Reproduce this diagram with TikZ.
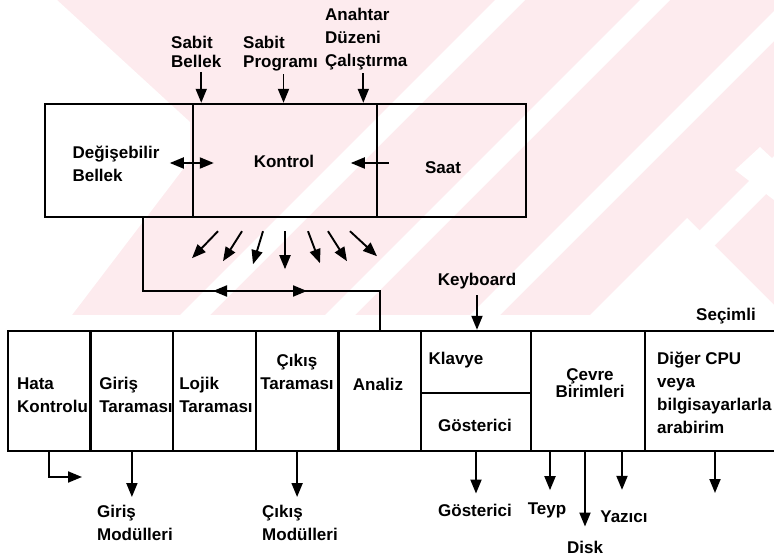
\documentclass[tikz,border=0pt]{standalone}
\usepackage{fontspec}
\setmainfont{Liberation Sans}
\usetikzlibrary{arrows.meta,calc}

\tikzset{
    kutu/.style={draw=black, line width=2.4pt, inner sep=0pt},
    yazi/.style={font=\bfseries\fontsize{17}{23}\selectfont, align=left, inner sep=0pt},
    sikyazi/.style={font=\bfseries\fontsize{17}{19}\selectfont, align=left, inner sep=0pt},
    ok/.style={line width=1.9pt, -{Triangle[length=14pt,width=11pt]}},
    cift/.style={line width=1.9pt, {Triangle[length=14pt,width=11pt]}-{Triangle[length=14pt,width=11pt]}},
    hat/.style={line width=1.9pt}
}

\begin{document}
\begin{tikzpicture}[x=1pt, y=-1pt]
    \definecolor{pembe}{HTML}{FDEBEE}
    \useasboundingbox (0,0) rectangle (774,556);

    % Watermark in the background
    \begin{scope}
        \clip (0,0) rectangle (774,315);
        \fill[pembe] (0,0) rectangle (774,315);
        \fill[white] (0,0) -- (57,0) -- (190,122) -- (190,160) -- (72,315) -- (0,315) -- cycle;
        \foreach \c in {510,655,800,945}
            \fill[white] (\c-15,0) -- (\c+15,0) -- (\c-300,315) -- (\c-330,315) -- cycle;
        \fill[white] (687,218) -- (590,315) -- (774,315) -- (774,305) -- cycle;
        \fill[white] (735,170) -- (760,147) -- (774,160) -- (774,200) -- cycle;
    \end{scope}

    % Upper unit
    \node[kutu, minimum width=148pt, minimum height=113pt] (bellek) at (119,160.5) {};
    \node[kutu, minimum width=184pt, minimum height=113pt] (kontrol) at (285,160.5) {};
    \node[kutu, minimum width=149pt, minimum height=113pt] (saat) at (451.5,160.5) {};

    \node[yazi] (tBellek) at (116,164) {Değişebilir\\Bellek};
    \node[yazi] (tKontrol) at (284,161) {Kontrol};
    \node[yazi] (tSaat) at (443,168) {Saat};

    % Inputs from above
    \node[sikyazi, anchor=north west] (sbLbl) at (171,36) {Sabit\\Bellek};
    \node[sikyazi, anchor=north west] (spLbl) at (243,36) {Sabit\\Programı};
    \node[yazi, anchor=north west] (adLbl) at (325,8) {Anahtar\\Düzeni\\Çalıştırma};

    \draw[ok, shorten <=4pt] ([xshift=5pt]sbLbl.south) -- ([xshift=5pt]sbLbl.south |- kontrol.north);
    \draw[ok, shorten <=3pt] ([xshift=3pt]spLbl.south) -- ([xshift=3pt]spLbl.south |- kontrol.north);
    \draw[ok, shorten <=3pt] ([xshift=-3pt]adLbl.south) -- ([xshift=-3pt]adLbl.south |- kontrol.north);

    % Arrows inside the upper unit
    \draw[cift] ([xshift=-22pt,yshift=-2.5pt]kontrol.west) -- ([xshift=22pt,yshift=-2.5pt]kontrol.west);
    \draw[ok] ([xshift=13pt,yshift=-2.5pt]saat.west) -- ([xshift=-25pt,yshift=-2.5pt]saat.west);

    % Fan of arrows below Kontrol
    \foreach \s/\dx/\dy in {-67/-26/27, -43/-19/30, -22/-10/33, 0/0/38, 23/12/32, 43/19/30, 65/27/25}
        \draw[ok] ($(kontrol.south)+(\s,13)$) -- ++(\dx,\dy);

    % Lower unit
    \foreach \ad [count=\i from 0] in {hata,giris,lojik,cikis,analiz}
        \node[kutu, minimum width=82.6pt, minimum height=120pt] (\ad) at (49.3+82.6*\i,391) {};
    \node[kutu, minimum width=110pt, minimum height=62pt] (klavye) at (476,362) {};
    \node[kutu, minimum width=110pt, minimum height=58pt] (gosterici) at (476,422) {};
    \node[kutu, minimum width=114pt, minimum height=120pt] (cevre) at (588,391) {};
    \node[kutu, minimum width=155pt, minimum height=120pt] (diger) at (722.5,391) {};

    \node[yazi] (tHata) at (52.5,395) {Hata\\Kontrolu};
    \node[yazi] (tGiris) at (136,395) {Giriş\\Taraması};
    \node[yazi] (tLojik) at (216,395) {Lojik\\Taraması};
    \node[yazi, align=center] (tCikis) at (297,372) {Çıkış\\Taraması};
    \node[yazi] (tAnaliz) at (378,384) {Analiz};
    \node[yazi] (tKlavye) at (456,360) {Klavye};
    \node[yazi] (tGost) at (475,425) {Gösterici};
    \node[sikyazi, align=center, font=\bfseries\fontsize{17}{17}\selectfont] (tCevre) at (590,383) {Çevre\\Birimleri};
    \node[yazi, anchor=north west] (tDiger) at (657,352) {Diğer CPU\\veya\\bilgisayarlarla\\arabirim};

    % Bus between the units
    \coordinate (busSol) at (143,291);
    \draw[hat] ([xshift=24pt]bellek.south) -- (busSol) -| (analiz.north);
    \coordinate (busA) at (213,291);
    \coordinate (busB) at (307,291);
    \draw[cift] (busA) -- (busB);

    % Keyboard and option
    \node[yazi] (kbd) at (477,281) {Keyboard};
    \draw[ok, shorten <=6pt] (kbd.south) -- (kbd.south |- klavye.north);
    \node[yazi] (secimli) at (726,316) {Seçimli};

    % Outputs
    \coordinate (hataOut) at (82,477);
    \draw[ok] (hata.south) |- (hataOut);

    \node[yazi, anchor=north west] (girisMod) at (97,505) {Giriş\\Modülleri};
    \node[yazi, anchor=north west] (cikisMod) at (262,505) {Çıkış\\Modülleri};
    \draw[ok, shorten >=8pt] (giris.south) -- (giris.south |- girisMod.north);
    \draw[ok, shorten >=8pt] (cikis.south) -- (cikis.south |- cikisMod.north);

    \node[yazi] (gostAlt) at (475,510) {Gösterici};
    \node[yazi] (teyp) at (547,510) {Teyp};
    \node[yazi] (disk) at (585,547) {Disk};
    \node[yazi] (yazici) at (624,517) {Yazıcı};
    \draw[ok, shorten >=10pt] (gosterici.south) -- (gosterici.south |- gostAlt.north);
    \draw[ok, shorten >=12pt] ([xshift=-38pt]cevre.south) -- ([xshift=-38pt]cevre.south |- teyp.north);
    \draw[ok, shorten >=14pt] ([xshift=-3pt]cevre.south) -- ([xshift=-3pt]cevre.south |- disk.north);
    \draw[ok, shorten >=21pt] ([xshift=34pt]cevre.south) -- ([xshift=34pt]cevre.south |- yazici.north);

    \coordinate (digerOut) at (715,493);
    \draw[ok] (diger.south -| digerOut) -- (digerOut);

\end{tikzpicture}
\end{document}
